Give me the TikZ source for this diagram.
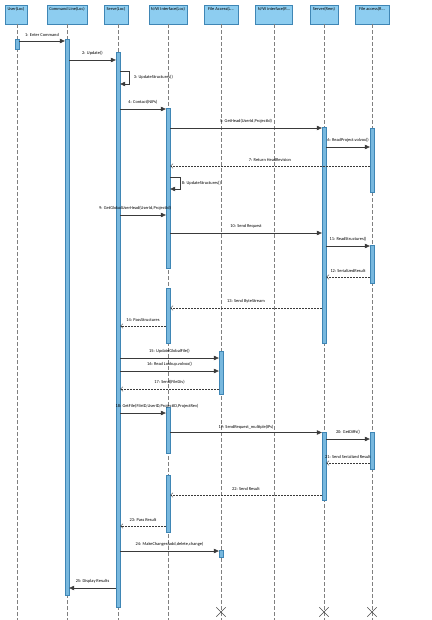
\documentclass[tikz,border=0pt]{standalone}
\usepackage{fontspec}
\setmainfont{Carlito}
\usetikzlibrary{arrows.meta, positioning, shapes.misc}
\definecolor{headFill}{HTML}{8DCDF0}
\definecolor{headLine}{HTML}{3F86B5}
\definecolor{barFill}{HTML}{78B8DE}
\definecolor{barLine}{HTML}{3F86B5}
\definecolor{msgLine}{HTML}{3A3A3A}

\begin{document}
\begin{tikzpicture}[x=1pt, y=-1pt,
head/.style={rectangle, draw=headLine, fill=headFill, anchor=north, font=\fontsize{4.4}{5}\selectfont, minimum height=19pt, text height=3pt, text depth=11pt, inner xsep=1pt, inner ysep=2pt, line width=0.4pt},
bar/.style={rectangle, draw=barLine, fill=barFill, anchor=north, minimum width=4pt, inner sep=0pt, line width=0.4pt},
lifeline/.style={draw=gray, dash pattern=on 3.5pt off 2.5pt, line width=0.3pt},
msg/.style={-{Triangle[length=5pt,width=4.5pt]}, msgLine, line width=0.45pt},
ret/.style={-{Straight Barb[length=2.5pt,width=4.5pt]}, msgLine, dash pattern=on 2pt off 1pt, line width=0.4pt},
lbl/.style={font=\fontsize{4.4}{5}\selectfont, text=black, inner sep=0.5pt, above=4pt},
selflbl/.style={font=\fontsize{4.4}{5}\selectfont, text=black, inner sep=0.5pt, right=4pt},
kill/.style={cross out, draw=gray!60!black, minimum size=9pt, inner sep=0pt, line width=0.4pt}
]
\useasboundingbox (0,0) rectangle (431,620);
\coordinate (bottom) at (0,620);

% lifeline heads
\node[head, minimum width=22pt] (user) at (16,5) {User(Loc)};
\node[head, minimum width=40pt] (cmd) at (67,5) {Command Line(Loc)};
\node[head, minimum width=24pt] (srv) at (116,5) {Serve(Loc)};
\node[head, minimum width=38pt] (nwl) at (168,5) {N/W Interface(Loc)};
\node[head, minimum width=34pt] (fal) at (221,5) {File Access(L...};
\node[head, minimum width=37pt] (nwr) at (274,5) {N/W interface(R...};
\node[head, minimum width=28pt] (rem) at (324,5) {Server(Rem)};
\node[head, minimum width=34pt] (far) at (372,5) {File access(R...};

% dashed lifelines
\draw[lifeline] (user.south -| 17,0) -- (bottom -| 17,0);
\draw[lifeline] (cmd.south) -- (cmd.south |- bottom);
\draw[lifeline] (srv.south -| 118,0) -- (bottom -| 118,0);
\draw[lifeline] (nwl.south) -- (nwl.south |- bottom);
\draw[lifeline] (fal.south) -- (fal.south |- bottom);
\draw[lifeline] (nwr.south) -- (nwr.south |- bottom);
\draw[lifeline] (rem.south) -- (rem.south |- bottom);
\draw[lifeline] (far.south) -- (far.south |- bottom);

% end marks
\node[kill] (falx) at (221,612) {};
\node[kill] (remx) at (324,612) {};
\node[kill] (farx) at (372,612) {};

% activations
\node[bar, minimum height=10pt] (userbar) at (17,39) {};
\node[bar, minimum height=556pt] (cmdbar) at (67,39) {};
\node[bar, minimum height=555pt] (srvbar) at (118,52) {};
\node[bar, minimum height=160pt] (nwl1) at (168,108) {};
\node[bar, minimum height=55pt] (nwl2) at (168,288) {};
\node[bar, minimum height=46pt] (nwl3) at (168,407) {};
\node[bar, minimum height=57pt] (nwl4) at (168,475) {};
\node[bar, minimum height=43pt] (fal1) at (221,351) {};
\node[bar, minimum height=7pt] (fal2) at (221,550) {};
\node[bar, minimum height=216pt] (rem1) at (324,127) {};
\node[bar, minimum height=68pt] (rem2) at (324,432) {};
\node[bar, minimum height=64pt] (far1) at (372,128) {};
\node[bar, minimum height=38pt] (far2) at (372,245) {};
\node[bar, minimum height=37pt] (far3) at (372,432) {};

% message rows
\foreach \n/\y in {1/41, 2/60, 3/71, 4/109, 5/128, 6/147, 7/166, 8/177, 9/215, 10/233, 11/246, 12/277, 13/308, 14/326, 15/358, 16/371, 17/389, 18/413, 19/432.5, 20/439, 21/463, 22/495, 23/526, 24/551, 25/588}
  \coordinate (m\n) at (0,\y);

% messages
\draw[msg] (userbar.east |- m1) -- node[lbl]{1: Enter Command} (cmdbar.west |- m1);
\draw[msg] (cmdbar.east |- m2) -- node[lbl]{2: Update()} (srvbar.west |- m2);
\draw[msg] (srvbar.east |- m3) -- ++(9,0) -- node[selflbl]{3: UpdateStructures()} ++(0,13) -- ++(-9,0);
\draw[msg] (srvbar.east |- m4) -- node[lbl]{4: Contact(NIPs)} (nwl1.west |- m4);
\draw[msg] (nwl1.east |- m5) -- node[lbl]{5: GetHead(UserId,ProjectId)} (rem1.west |- m5);
\draw[msg] (rem1.east |- m6) -- node[lbl]{6: ReadProject.volvox()} (far1.west |- m6);
\draw[ret] (far1.west |- m7) -- node[lbl]{7: Return HeadRevision} (nwl1.east |- m7);
\draw[msg] (nwl1.east |- m8) -- ++(10,0) -- node[selflbl, right=1pt]{8: UpdateStructures()} ++(0,12) -- ++(-10,0);
\draw[msg] (srvbar.east |- m9) -- node[lbl, xshift=-8pt]{9: GetGlobalUserHead(UserId,ProjectId)} (nwl1.west |- m9);
\draw[msg] (nwl1.east |- m10) -- node[lbl]{10: Send Request} (rem1.west |- m10);
\draw[msg] (rem1.east |- m11) -- node[lbl]{11: ReadStructures()} (far2.west |- m11);
\draw[ret] (far2.west |- m12) -- node[lbl]{12: SerializedResult} (rem1.east |- m12);
\draw[ret] (rem1.west |- m13) -- node[lbl]{13: Send ByteStream} (nwl2.east |- m13);
\draw[ret] (nwl2.west |- m14) -- node[lbl]{14: PassStructures} (srvbar.east |- m14);
\draw[msg] (srvbar.east |- m15) -- node[lbl]{15: UpdateGlobalFile()} (fal1.west |- m15);
\draw[msg] (srvbar.east |- m16) -- node[lbl]{16: Read Lookup.volvox()} (fal1.west |- m16);
\draw[ret] (fal1.west |- m17) -- node[lbl]{17: Send(FileDiv)} (srvbar.east |- m17);
\draw[msg] (srvbar.east |- m18) -- node[lbl, xshift=14pt]{18: GetFile(FileID,UserID,ProjectID,ProjectRev)} (nwl3.west |- m18);
\draw[msg] (nwl3.east |- m19) -- node[lbl, above=2.5pt]{19: SendRequest\_multiple(IPs)} (rem2.west |- m19);
\draw[msg] (rem2.east |- m20) -- node[lbl]{20: GetDiffs()} (far3.west |- m20);
\draw[ret] (far3.west |- m21) -- node[lbl]{21: Send Serialized Result} (rem2.east |- m21);
\draw[ret] (rem2.west |- m22) -- node[lbl]{22: Send Result} (nwl4.east |- m22);
\draw[ret] (nwl4.west |- m23) -- node[lbl]{23: Pass Result} (srvbar.east |- m23);
\draw[msg] (srvbar.east |- m24) -- node[lbl]{24: MakeChanges(add,delete,change)} (fal2.west |- m24);
\draw[msg] (srvbar.west |- m25) -- node[lbl]{25: Display Results} (cmdbar.east |- m25);
\end{tikzpicture}
\end{document}
